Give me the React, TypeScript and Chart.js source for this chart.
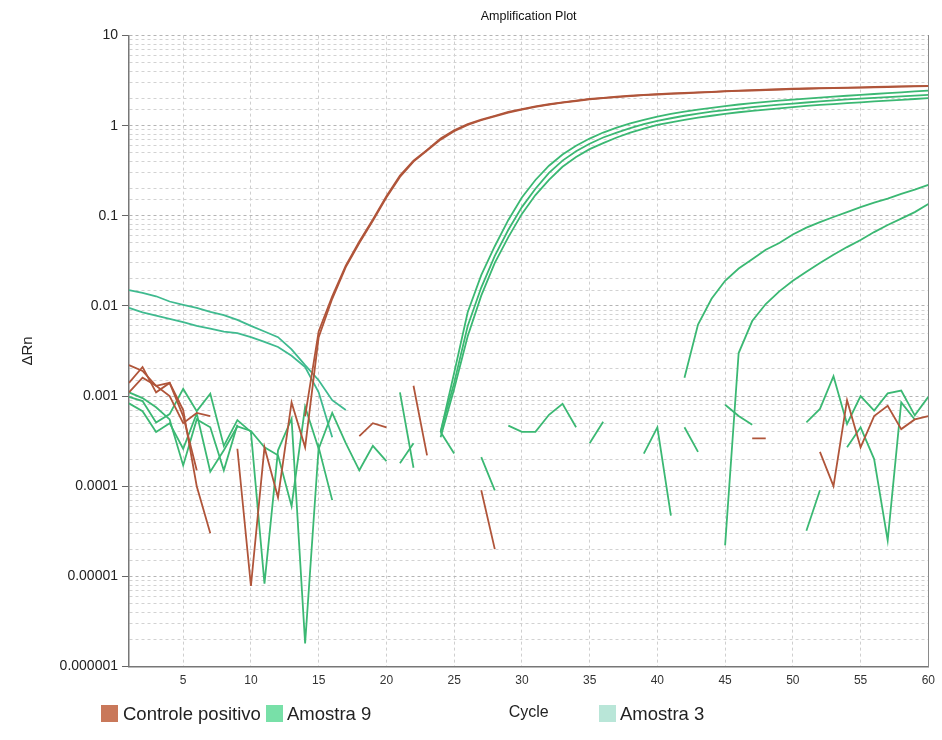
import React, { useEffect, useRef } from 'react';
import { Chart, registerables } from 'chart.js';

Chart.register(...registerables);

const _ = null;

const CYCLES = [
  1, 2, 3, 4, 5, 6, 7, 8, 9, 10,
  11, 12, 13, 14, 15, 16, 17, 18, 19, 20,
  21, 22, 23, 24, 25, 26, 27, 28, 29, 30,
  31, 32, 33, 34, 35, 36, 37, 38, 39, 40,
  41, 42, 43, 44, 45, 46, 47, 48, 49, 50,
  51, 52, 53, 54, 55, 56, 57, 58, 59, 60,
];

const X_TICKS = [5, 10, 15, 20, 25, 30, 35, 40, 45, 50, 55, 60];
const Y_LABELS = ['0.000001', '0.00001', '0.0001', '0.001', '0.01', '0.1', '1', '10'];

// Controle positivo (replicates)
const CP_A = [
  0.0014, 0.0021, 0.0011, 0.0014, 0.0006, 0.00015, _, _, 0.00026, 0.0000078,
  0.00027, 0.000075, 0.00085, 0.00027, 0.0045, 0.012, 0.027, 0.05, 0.088, 0.16,
  0.27, 0.40, 0.53, 0.70, 0.87, 1.02, 1.15, 1.27, 1.40, 1.51,
  1.62, 1.71, 1.8, 1.88, 1.96, 2.02, 2.08, 2.13, 2.18, 2.22,
  2.26, 2.29, 2.33, 2.36, 2.40, 2.43, 2.46, 2.49, 2.52, 2.55,
  2.57, 2.59, 2.61, 2.63, 2.65, 2.67, 2.69, 2.71, 2.73, 2.75,
];
const CP_B = [
  0.0022, 0.0019, 0.0013, 0.0014, 0.0007, 0.0001, 0.00003, _, _, _,
  _, _, _, 0.0006, 0.0052, 0.0128, 0.028, 0.052, 0.091, 0.165,
  0.28, 0.41, 0.54, 0.72, 0.89, 1.04, 1.17, 1.29, 1.42, 1.53,
  1.64, 1.73, 1.82, 1.9, 1.98, 2.04, 2.1, 2.15, 2.2, 2.24,
  2.28, 2.31, 2.35, 2.38, 2.42, 2.45, 2.48, 2.51, 2.54, 2.57,
  2.59, 2.61, 2.63, 2.65, 2.67, 2.69, 2.71, 2.73, 2.75, 2.77,
];
const CP_C = [
  0.0011, 0.0016, 0.0013, 0.001, 0.0005, 0.00065, 0.0006, _, _, _,
  _, _, _, _, _, _, _, 0.00036, 0.0005, 0.00045,
  _, 0.0013, 0.00022, _, _, _, 0.00009, 0.00002, _, _,
  _, _, _, _, _, _, _, _, _, _,
  _, _, _, _, _, _, 0.00034, 0.00034, _, _,
  _, 0.00024, 0.0001, 0.0009, 0.00027, 0.0006, 0.00078, 0.00043, 0.00055, 0.0006,
];

// Amostra 9 (replicates)
const A9_1 = [
  0.00098, 0.00088, 0.00051, 0.00063, 0.0012, 0.00068, 0.00106, 0.00028, 0.00054, 0.0004,
  0.0000083, 0.00025, 0.00056, 0.0000018, 0.00027, 0.00007, _, _, _, _,
  _, _, _, 0.0004, 0.0018, 0.0085, 0.022, 0.046, 0.09, 0.16,
  0.25, 0.36, 0.48, 0.60, 0.72, 0.84, 0.95, 1.06, 1.16, 1.26,
  1.35, 1.43, 1.51, 1.58, 1.65, 1.72, 1.78, 1.84, 1.90, 1.95,
  2.0, 2.05, 2.10, 2.15, 2.20, 2.25, 2.30, 2.35, 2.40, 2.45,
];
const A9_2 = [
  0.00083, 0.00068, 0.0004, 0.0005, 0.00026, 0.00064, 0.000145, 0.00025, 0.00046, 0.00041,
  0.00027, 0.00022, 0.00006, 0.00076, 0.00026, 0.00065, 0.0003, 0.00015, 0.00028, 0.00019,
  _, _, _, 0.0004, 0.0014, 0.006, 0.016, 0.036, 0.07, 0.125,
  0.2, 0.30, 0.41, 0.52, 0.63, 0.74, 0.84, 0.94, 1.04, 1.13,
  1.21, 1.29, 1.36, 1.43, 1.49, 1.55, 1.61, 1.66, 1.71, 1.76,
  1.81, 1.86, 1.91, 1.96, 2.0, 2.04, 2.08, 2.12, 2.16, 2.20,
];
const A9_3 = [
  0.0011, 0.00095, 0.00075, 0.00055, 0.00017, 0.00055, 0.00045, 0.00015, 0.00048, _,
  _, _, _, _, _, _, _, _, _, _,
  0.0011, 0.00016, _, 0.00035, 0.0012, 0.0046, 0.013, 0.03, 0.058, 0.105,
  0.17, 0.25, 0.35, 0.45, 0.55, 0.64, 0.74, 0.84, 0.93, 1.02,
  1.09, 1.16, 1.23, 1.29, 1.35, 1.41, 1.46, 1.51, 1.56, 1.61,
  1.66, 1.70, 1.74, 1.78, 1.82, 1.86, 1.90, 1.94, 1.98, 2.02,
];
const A9_4 = [
  _, _, _, _, _, _, _, _, _, _,
  _, _, _, _, _, _, _, _, _, _,
  _, _, _, _, _, _, _, _, _, _,
  _, _, _, _, _, _, _, _, _, _,
  _, 0.0016, 0.0062, 0.012, 0.019, 0.026, 0.033, 0.042, 0.05, 0.062,
  0.074, 0.085, 0.097, 0.11, 0.125, 0.14, 0.155, 0.175, 0.195, 0.22,
];
const A9_5 = [
  _, _, _, _, _, _, _, _, _, _,
  _, _, _, _, _, _, _, _, _, _,
  _, _, _, _, _, _, _, _, _, _,
  _, _, _, _, _, _, _, _, _, _,
  _, _, _, _, 0.000022, 0.003, 0.0068, 0.0105, 0.0145, 0.019,
  0.024, 0.03, 0.037, 0.045, 0.054, 0.066, 0.079, 0.093, 0.11, 0.135,
];
const A9_6 = [
  _, _, _, _, _, _, _, _, _, _,
  _, _, _, _, _, _, _, _, _, _,
  0.00018, 0.0003, _, 0.0004, 0.00023, _, 0.00021, 0.00009, _, _,
  _, _, _, _, 0.0003, 0.00052, _, _, 0.00023, 0.00045,
  0.000047, _, _, _, 0.0008, 0.0006, 0.00048, _, _, _,
  0.00051, 0.00072, 0.00166, 0.00049, 0.001, 0.00069, 0.00107, 0.00115, 0.00061, 0.00098,
];
const A9_7 = [
  _, _, _, _, _, _, _, _, _, _,
  _, _, _, _, _, _, _, _, _, _,
  _, _, _, _, _, _, _, _, 0.00047, 0.0004,
  0.0004, 0.00062, 0.00082, 0.00045, _, _, _, _, _, _,
  _, 0.00045, 0.00024, _, _, _, _, _, _, _,
  0.000032, 0.00009, _, 0.00027, 0.00045, 0.0002, 0.000025, 0.00085, 0.00055, _,
];

// Amostra 3
const A3_1 = [
  0.015, 0.014, 0.0128, 0.0112, 0.0103, 0.0095, 0.0086, 0.0079, 0.007, 0.006,
  0.0052, 0.0045, 0.0033, 0.0022, 0.0015, 0.0009, 0.0007, _, _, _,
  _, _, _, _, _, _, _, _, _, _,
  _, _, _, _, _, _, _, _, _, _,
  _, _, _, _, _, _, _, _, _, _,
  _, _, _, _, _, _, _, _, _, _,
];
const A3_2 = [
  0.0095, 0.0085, 0.0078, 0.0072, 0.0066, 0.006, 0.0056, 0.0052, 0.005, 0.0045,
  0.004, 0.0035, 0.0028, 0.0021, 0.0011, 0.00035, _, _, _, _,
  _, _, _, _, _, _, _, _, _, _,
  _, _, _, _, _, _, _, _, _, _,
  _, _, _, _, _, _, _, _, _, _,
  _, _, _, _, _, _, _, _, _, _,
];

const BROWN = '#b0553a';
const GREEN = '#3bb873';
const TEAL = '#3fba8f';

const LEGEND = [
  { label: 'Controle positivo', color: '#c9785a', box: 101, text: 123 },
  { label: 'Amostra 9', color: '#78e0a8', box: 266, text: 287 },
  { label: 'Amostra 3', color: '#b9e6d8', box: 599, text: 620 },
];

const FONT = "'Liberation Sans', Arial, sans-serif";
const NARROW = "'Liberation Sans Narrow', 'Liberation Sans', Arial, sans-serif";

function isDecade(v: number) {
  const l = Math.log10(v);
  return Math.abs(l - Math.round(l)) < 1e-6;
}

export default function App() {
  const ref = useRef<HTMLCanvasElement>(null);

  useEffect(() => {
    if (!ref.current) return;
    const series: [string, (number | null)[], string][] = [
      ['Controle positivo', CP_A, BROWN],
      ['Controle positivo', CP_B, BROWN],
      ['Controle positivo', CP_C, BROWN],
      ['Amostra 9', A9_1, GREEN],
      ['Amostra 9', A9_2, GREEN],
      ['Amostra 9', A9_3, GREEN],
      ['Amostra 9', A9_4, GREEN],
      ['Amostra 9', A9_5, GREEN],
      ['Amostra 9', A9_6, GREEN],
      ['Amostra 9', A9_7, GREEN],
      ['Amostra 3', A3_1, TEAL],
      ['Amostra 3', A3_2, TEAL],
    ];
    const chart = new Chart(ref.current, {
      type: 'line',
      data: {
        labels: CYCLES,
        datasets: series.map(([label, data, color]) => ({
          label,
          data,
          borderColor: color,
          backgroundColor: color,
          borderWidth: 1.8,
          pointRadius: 0,
          tension: 0,
          spanGaps: false,
          fill: false,
        })),
      },
      options: {
        responsive: false,
        animation: false,
        events: [],
        layout: { padding: { left: 10, right: 11, top: 0, bottom: 10 } },
        plugins: {
          legend: { display: false },
          tooltip: { enabled: false },
          title: {
            display: true,
            fullSize: false,
            text: 'Amplification Plot',
            color: '#111',
            font: { family: FONT, size: 12.5, weight: 'normal' },
            padding: { top: 9, bottom: 11.6 },
          },
        },
        scales: {
          x: {
            type: 'linear',
            min: 1,
            max: 60,
            afterBuildTicks: (s: any) => {
              s.ticks = X_TICKS.map((v) => ({ value: v }));
            },
            ticks: {
              autoSkip: false,
              maxRotation: 0,
              padding: 7,
              color: '#333',
              font: { family: NARROW, size: 12 },
            },
            grid: { color: '#cfcfcf', lineWidth: 1, drawTicks: false },
            border: { display: true, color: '#777', width: 1.5, dash: [3, 3] },
            title: {
              display: true,
              text: 'Cycle',
              color: '#222',
              font: { family: FONT, size: 16 },
              padding: { top: 8, bottom: 8 },
            },
          },
          y: {
            type: 'logarithmic',
            min: 0.000001,
            max: 10,
            ticks: {
              autoSkip: false,
              padding: 4,
              color: '#222',
              font: { family: FONT, size: 14 },
              callback: (v: any) => {
                const n = Number(v);
                if (!isDecade(n)) return '';
                return Y_LABELS[Math.round(Math.log10(n)) + 6];
              },
            },
            grid: {
              color: (ctx: any) => (isDecade(ctx.tick.value) ? '#b4b4b4' : '#d2d2d2'),
              lineWidth: 1,
              tickLength: 7,
              tickColor: (ctx: any) => (isDecade(ctx.tick.value) ? '#666' : 'rgba(0,0,0,0)'),
            },
            border: { display: true, color: '#777', width: 1.5, dash: [3, 3] },
            title: {
              display: true,
              text: 'ΔRn',
              color: '#222',
              font: { family: FONT, size: 15 },
              padding: { top: 9, bottom: 18.6 },
            },
          },
          y2: {
            type: 'linear',
            position: 'right',
            display: true,
            ticks: { display: false },
            grid: { display: false, drawTicks: false },
            border: { display: true, color: '#8a8a8a', width: 1 },
          },
        },
      },
    } as any);
    return () => chart.destroy();
  }, []);

  return (
    <div style={{ position: 'absolute', left: 0, top: 0, width: 942, height: 740, background: '#fff', overflow: 'hidden' }}>
      <canvas ref={ref} width={942} height={740} style={{ display: 'block' }} />
      {LEGEND.map((l) => (
        <React.Fragment key={l.label}>
          <div style={{ position: 'absolute', left: l.box, top: 705, width: 17, height: 17, background: l.color }} />
          <div
            style={{
              position: 'absolute',
              left: l.text,
              top: 705,
              fontFamily: FONT,
              fontSize: 18.5,
              lineHeight: '18px',
              color: '#222',
              whiteSpace: 'nowrap',
            }}
          >
            {l.label}
          </div>
        </React.Fragment>
      ))}
    </div>
  );
}
